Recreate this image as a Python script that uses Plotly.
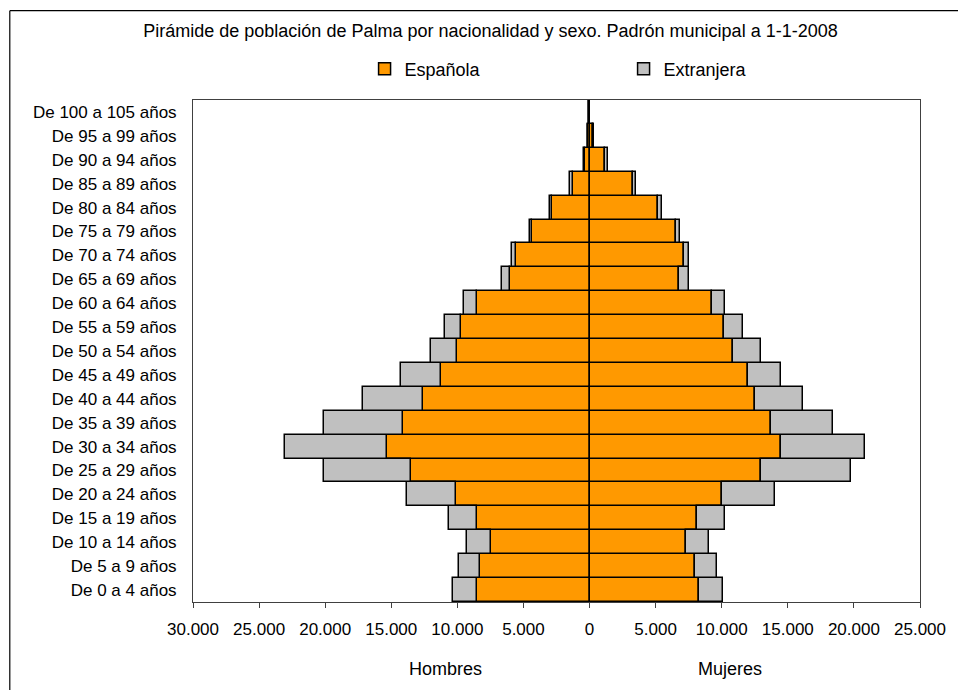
import plotly.graph_objects as go

categorias = ["De 0 a 4 años", "De 5 a 9 años", "De 10 a 14 años", "De 15 a 19 años",
              "De 20 a 24 años", "De 25 a 29 años", "De 30 a 34 años", "De 35 a 39 años",
              "De 40 a 44 años", "De 45 a 49 años", "De 50 a 54 años", "De 55 a 59 años",
              "De 60 a 64 años", "De 65 a 69 años", "De 70 a 74 años", "De 75 a 79 años",
              "De 80 a 84 años", "De 85 a 89 años", "De 90 a 94 años", "De 95 a 99 años",
              "De 100 a 105 años"]

hombres_espanola = [8550, 8270, 7460, 8520, 10070, 13520, 15330, 14120, 12580, 11260, 10050,
                    9720, 8520, 6000, 5530, 4330, 2820, 1240, 360, 90, 10]
hombres_extranjera = [1800, 1580, 1840, 2140, 3750, 6600, 7680, 6000, 4560, 3040, 1930,
                      1210, 950, 630, 350, 190, 190, 240, 70, 30, 2]
mujeres_espanola = [8310, 8010, 7280, 8160, 9990, 12980, 14490, 13710, 12550, 11950, 10870,
                    10140, 9240, 6800, 7110, 6530, 5150, 3290, 1150, 280, 40]
mujeres_extranjera = [1810, 1640, 1790, 2110, 4050, 6790, 6330, 4720, 3600, 2540, 2110,
                      1490, 1030, 740, 450, 300, 320, 220, 250, 60, 8]

tick_vals = [-30000, -25000, -20000, -15000, -10000, -5000, 0, 5000, 10000, 15000, 20000, 25000]
tick_text = ["30.000", "25.000", "20.000", "15.000", "10.000", "5.000", "0",
             "5.000", "10.000", "15.000", "20.000", "25.000"]

NARANJA = "#FF9900"
GRIS = "#C0C0C0"
FONT = "Liberation Sans, Arial, sans-serif"

fig = go.Figure()
line = dict(color="black", width=1.5)

fig.add_trace(go.Bar(y=categorias, x=[-v for v in hombres_espanola], orientation="h",
                     name="Española", marker=dict(color=NARANJA, line=line),
                     legendgroup="esp", showlegend=True))
fig.add_trace(go.Bar(y=categorias, x=[-v for v in hombres_extranjera], orientation="h",
                     name="Extranjera", marker=dict(color=GRIS, line=line),
                     legendgroup="ext", showlegend=True))
fig.add_trace(go.Bar(y=categorias, x=mujeres_espanola, orientation="h",
                     name="Española", marker=dict(color=NARANJA, line=line),
                     legendgroup="esp", showlegend=False))
fig.add_trace(go.Bar(y=categorias, x=mujeres_extranjera, orientation="h",
                     name="Extranjera", marker=dict(color=GRIS, line=line),
                     legendgroup="ext", showlegend=False))

fig.update_layout(
    width=958, height=690,
    margin=dict(l=193, r=35, t=100, b=87.5),
    barmode="relative", bargap=0,
    paper_bgcolor="white", plot_bgcolor="white",
    font=dict(family=FONT, size=17, color="black"),
    title=dict(text="Pirámide de población de Palma por nacionalidad y sexo. Padrón municipal a 1-1-2008",
               x=0.512, xanchor="center", y=1 - 31 / 690, yanchor="middle",
               font=dict(family=FONT, size=18, color="black")),
    legend=dict(orientation="h", x=0.236, xanchor="left", y=1.0617, yanchor="middle",
                entrywidth=214, entrywidthmode="pixels", traceorder="normal",
                font=dict(family=FONT, size=18, color="black"), bgcolor="rgba(0,0,0,0)"),
    xaxis=dict(range=[-30000, 25000], tickvals=tick_vals, ticktext=tick_text,
               showgrid=False, zeroline=True, zerolinecolor="black", zerolinewidth=1,
               showline=True, linecolor="#404040", linewidth=1, mirror=True,
               ticks="outside", ticklen=5, tickcolor="#404040", ticklabelstandoff=7,
               tickfont=dict(family=FONT, size=17, color="black")),
    yaxis=dict(categoryorder="array", categoryarray=categorias,
               showgrid=False, showline=True, linecolor="#404040", linewidth=1, mirror=True,
               ticks="", ticklabelstandoff=12,
               tickfont=dict(family=FONT, size=17, color="black")),
    annotations=[
        dict(text="Hombres", xref="paper", yref="paper", x=0.348, y=-0.134,
             xanchor="center", yanchor="middle", showarrow=False,
             font=dict(family=FONT, size=18, color="black")),
        dict(text="Mujeres", xref="paper", yref="paper", x=0.739, y=-0.134,
             xanchor="center", yanchor="middle", showarrow=False,
             font=dict(family=FONT, size=18, color="black")),
    ],
    shapes=[
        # outer chart frame (left edge and top edge; right/bottom are cropped in the reference)
        dict(type="line", xref="paper", yref="paper", x0=-0.252, x1=-0.252, y0=-0.25, y1=1.178,
             line=dict(color="black", width=1.2), layer="above"),
        dict(type="line", xref="paper", yref="paper", x0=-0.252, x1=1.06, y0=1.178, y1=1.178,
             line=dict(color="black", width=1.2), layer="above"),
    ],
)

fig.write_html("out.html", config={"displayModeBar": False},
               post_script="document.body.style.margin='0';document.body.style.overflow='hidden';")
